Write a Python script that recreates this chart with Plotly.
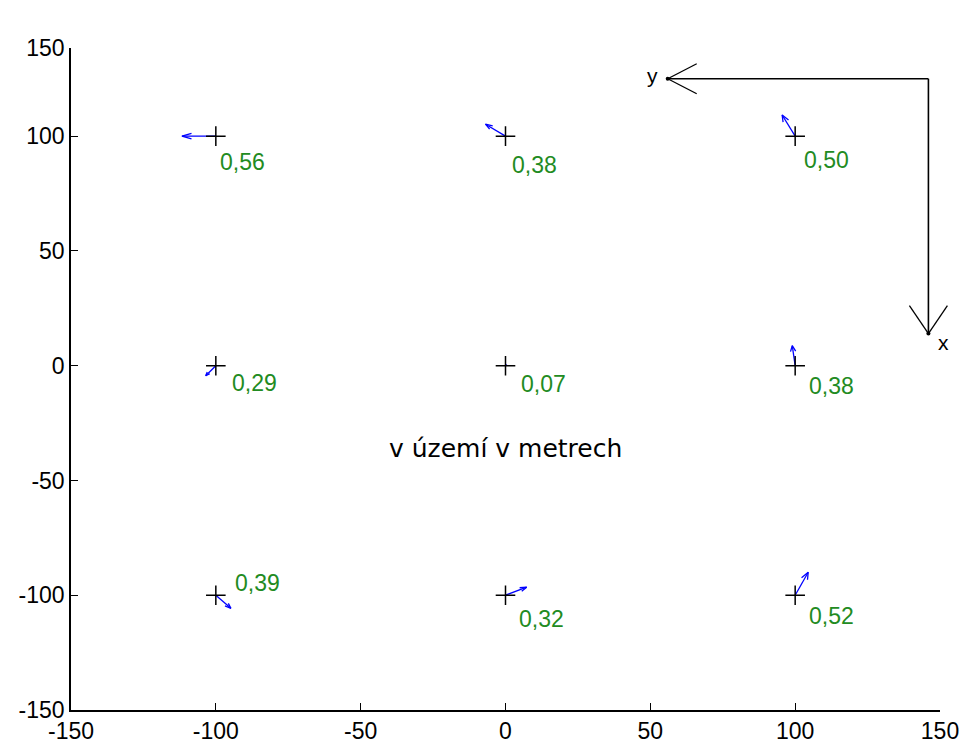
import numpy as np
import plotly.graph_objects as go
import plotly.figure_factory as ff

# ---- data ----
grid_x = [-100, 0, 100, -100, 0, 100, -100, 0, 100]
grid_y = [100, 100, 100, 0, 0, 0, -100, -100, -100]
# displacement vectors as drawn (plot units)
vec_u = [-11.7, -6.9, -4.5, -3.5, 0.5, -1.0, 5.2, 7.3, 4.5]
vec_v = [0.0, 5.2, 9.2, -4.4, 0.3, 8.7, -5.7, 3.5, 10.0]
# magnitudes written next to points
mag_text = ["0,56", "0,38", "0,50", "0,29", "0,07", "0,38", "0,39", "0,32", "0,52"]
label_x = [-99.2, 1.6, 102.5, -95.1, 4.7, 104.2, -94.0, 4.1, 104.2]
label_y = [88.6, 87.3, 89.5, -7.4, -7.9, -8.7, -94.8, -110.5, -109.2]

x_ticks = [-150, -100, -50, 0, 50, 100, 150]
x_tick_text = ["-150", "-100", "-50", "0", "50", "100", "150"]
y_ticks = [-150, -100, -50, 0, 50, 100]
y_top = 138.4
y_tick_text = ["-150", "-100", "-50", "0", "50", "100", "150"]

center_text = "v území v metrech"
center_pos = (0, -36)

# orientation sketch (x and y axes of the local system)
compass_corner = (146, 125)
compass_y_len = 90    # arm toward -x, labelled "y"
compass_x_len = 111   # arm toward -y, labelled "x"

XR = [-150, 150]
YR = [-150, y_top]

FONT = "Liberation Sans, Arial, sans-serif"
GREEN = "rgb(34,139,34)"

ML, MR, MT, MB = 71, 25, 48, 35

fig = ff.create_quiver(grid_x, grid_y, vec_u, vec_v, scale=1, arrow_scale=0.3,
                       angle=np.pi / 9, line=dict(color="blue", width=1.3))
for tr in fig.data:
    tr.showlegend = False
    tr.hoverinfo = "skip"

fig.add_trace(go.Scatter(x=grid_x, y=grid_y, mode="markers",
                         marker=dict(symbol="cross-thin", size=14,
                                     line=dict(color="black", width=1.5)),
                         showlegend=False, hoverinfo="skip"))

for tx, ty, t in zip(label_x, label_y, mag_text):
    fig.add_annotation(x=tx, y=ty, text=t, showarrow=False, xanchor="left",
                       yanchor="middle", font=dict(family=FONT, size=23, color=GREEN))

fig.add_annotation(x=center_pos[0], y=center_pos[1], text=center_text, showarrow=False,
                   xanchor="center", yanchor="middle",
                   font=dict(family="DejaVu Sans, Liberation Sans, sans-serif", size=25,
                             color="black"))

# ---- compass drawn in paper coordinates (not clipped) ----
W_PX, H_PX = 965 - ML - MR, 745 - MT - MB


def px(x, y):
    return ((x - XR[0]) / (XR[1] - XR[0]), (y - YR[0]) / (YR[1] - YR[0]))


cx, cy = compass_corner
ytip = (cx - compass_y_len, cy)
xtip = (cx, cy - compass_x_len)


def line(p, q):
    a, b = px(*p), px(*q)
    fig.add_shape(type="line", xref="paper", yref="paper", x0=a[0], y0=a[1],
                  x1=b[0], y1=b[1], line=dict(color="black", width=1.6))


line(compass_corner, ytip)
line(compass_corner, xtip)


# chevron heads: length / half-width in pixels
def head(tip, direction, L, Wd):
    tx, ty = px(*tip)
    dx, dy = direction
    for s in (1, -1):
        ex = tx + (-dx * L + s * (-dy) * Wd) / W_PX
        ey = ty + (-dy * L + s * dx * Wd) / H_PX
        fig.add_shape(type="line", xref="paper", yref="paper", x0=tx, y0=ty,
                      x1=ex, y1=ey, line=dict(color="black", width=1.3))


head(ytip, (-1, 0), 29, 15)
head(xtip, (0, -1), 28, 19)

fig.add_trace(go.Scatter(x=[ytip[0], xtip[0]], y=[ytip[1], xtip[1]], mode="markers",
                         marker=dict(color="black", size=4), cliponaxis=False,
                         showlegend=False, hoverinfo="skip"))
fig.add_annotation(x=ytip[0] - 2.5, y=ytip[1] + 1.5, text="y", showarrow=False,
                   xanchor="right", yanchor="middle",
                   font=dict(family=FONT, size=21, color="black"))
fig.add_annotation(x=xtip[0] + 2.5, y=xtip[1] - 4, text="x", showarrow=False,
                   xanchor="left", yanchor="middle",
                   font=dict(family=FONT, size=21, color="black"))

axis_common = dict(showline=True, linecolor="black", linewidth=1.5, mirror=False,
                   ticks="inside", ticklen=7, tickcolor="black", tickwidth=1,
                   showgrid=False, zeroline=False, automargin=False,
                   tickfont=dict(family=FONT, size=23, color="black"))

fig.update_layout(
    width=965, height=745,
    margin=dict(l=ML, r=MR, t=MT, b=MB, autoexpand=False),
    paper_bgcolor="white", plot_bgcolor="white",
    showlegend=False,
    xaxis=dict(range=XR, tickvals=x_ticks, ticktext=x_tick_text, **axis_common),
    yaxis=dict(range=YR, tickvals=y_ticks + [y_top], ticktext=y_tick_text, **axis_common),
)

fig.write_html("out.html")
